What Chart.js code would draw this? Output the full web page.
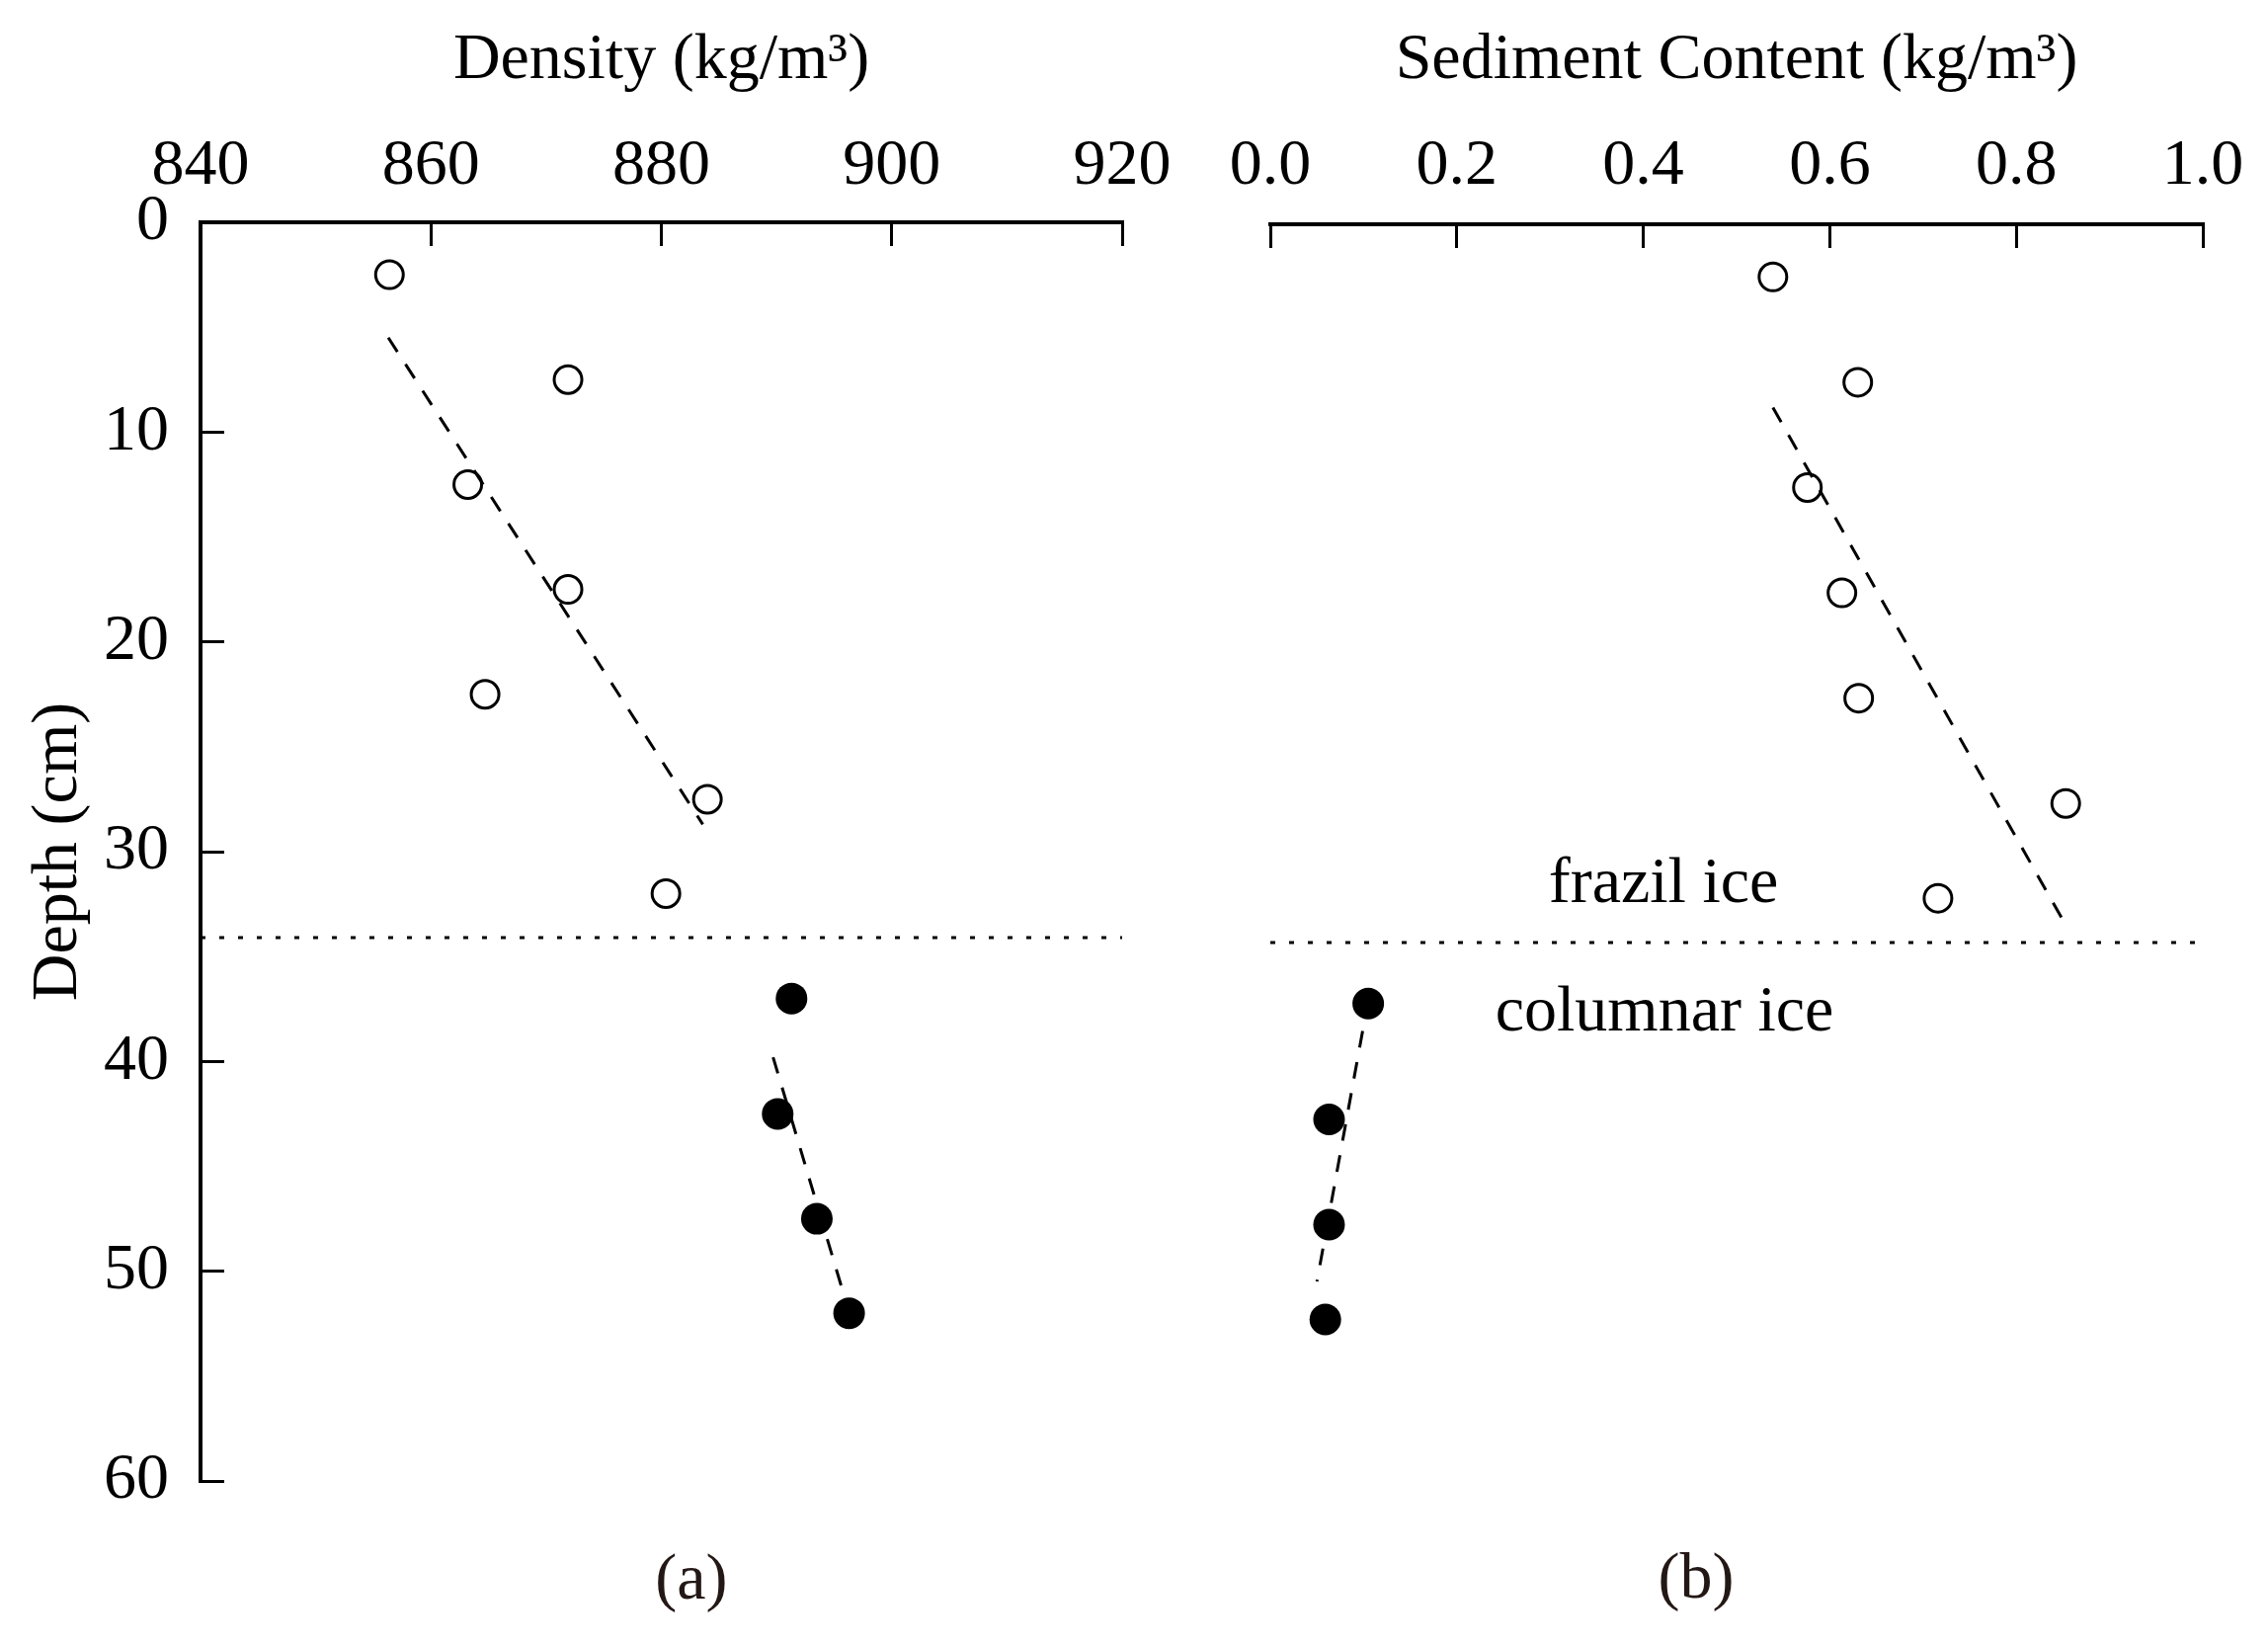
<!DOCTYPE html>
<html>
<head>
<meta charset="utf-8">
<script src="https://cdn.jsdelivr.net/npm/chart.js@4.4.1/dist/chart.umd.min.js"></script>
<style>
  html, body { margin: 0; padding: 0; background: #ffffff; }
  body { width: 2296px; height: 1667px; position: relative; overflow: hidden; }
  canvas { position: absolute; top: 0; }
  #cA { left: 0px; }
  #cB { left: 1215px; }
</style>
</head>
<body>
<canvas id="cA" width="1215" height="1667"></canvas>
<canvas id="cB" width="1081" height="1667"></canvas>
<script>
// ---------- data ----------
const depthFrazil   = [2.5, 7.5, 12.5, 17.5, 22.5, 27.5, 32.0];
const densityFrazil = [856.4, 871.9, 863.2, 871.9, 864.7, 884.0, 880.4];
const depthColumnar   = [37.0, 42.5, 47.5, 52.0];
const densityColumnar = [891.3, 890.1, 893.5, 896.3];

const sedimentFrazil   = [0.539, 0.630, 0.576, 0.613, 0.631, 0.853, 0.716];
const sedimentColumnar = [0.105, 0.063, 0.063, 0.059];

// dashed trend lines (end points as read)
const densityTrendFrazil   = { x: [856.3, 883.6], y: [5.5, 28.7] };
const densityTrendColumnar = { x: [889.7, 896.05], y: [39.8, 51.5] };
const sedimentTrendFrazil   = { x: [0.539, 0.852], y: [8.7, 33.2] };
const sedimentTrendColumnar = { x: [0.099, 0.050], y: [38.3, 50.2] };

const boundaryDepth = 34.1;

const densityTicks  = ['840', '860', '880', '900', '920'];
const sedimentTicks = ['0.0', '0.2', '0.4', '0.6', '0.8', '1.0'];
const depthTicks    = ['0', '10', '20', '30', '40', '50', '60'];

const labelsA = [{ text: '(a)', x: 882.6, y: 65.6, color: '#231815' }];
const labelsB = [
  { text: '(b)', x: 0.4566, y: 65.2, color: '#231815' },
  { text: 'frazil ice', x: 0.4216, y: 32.2, color: '#000000' },
  { text: 'columnar ice', x: 0.4227, y: 38.3, color: '#000000' }
];

// ---------- helpers ----------
const FONT = 'Liberation Serif';
Chart.defaults.font.family = FONT;
Chart.defaults.color = '#000000';

function pts(xs, ys) { return xs.map((v, i) => ({ x: v, y: ys[i] })); }

const textPlugin = {
  id: 'panelText',
  afterDraw(chart, args, opts) {
    const ctx = chart.ctx;
    const sx = chart.scales.x, sy = chart.scales.y;
    ctx.save();
    ctx.font = '66px "' + FONT + '"';
    ctx.textAlign = 'center';
    ctx.textBaseline = 'alphabetic';
    (opts.items || []).forEach(it => {
      ctx.fillStyle = it.color;
      ctx.fillText(it.text, sx.getPixelForValue(it.x), sy.getPixelForValue(it.y));
    });
    ctx.restore();
  }
};

function makeDatasets(xFr, xCol, trFr, trCol, xMin, xMax) {
  return [
    { label: 'trendF', data: pts(trFr.x, trFr.y), showLine: true, pointRadius: 0,
      borderColor: '#000', borderWidth: 3, borderDash: [17, 15], fill: false, order: 1 },
    { label: 'trendC', data: pts(trCol.x, trCol.y), showLine: true, pointRadius: 0,
      borderColor: '#000', borderWidth: 3, borderDash: [17, 15], fill: false, order: 1 },
    { label: 'boundary', data: pts([xMin, xMax], [boundaryDepth, boundaryDepth]), showLine: true,
      pointRadius: 0, borderColor: '#000', borderWidth: 3, borderDash: [5, 14], fill: false, order: 1 },
    { label: 'frazil', data: pts(xFr, depthFrazil), pointStyle: 'circle', pointRadius: 14,
      pointBorderWidth: 3, pointBorderColor: '#000', pointBackgroundColor: 'rgba(0,0,0,0)', showLine: false, order: 0 },
    { label: 'columnar', data: pts(xCol, depthColumnar), pointStyle: 'circle', pointRadius: 16,
      pointBorderWidth: 0, pointBackgroundColor: '#000', pointBorderColor: '#000', showLine: false, order: 0 }
  ];
}

function noOverflow(s) { s.paddingLeft = 0; s.paddingRight = 0; s.paddingTop = 0; s.paddingBottom = 0; }

function xAxis(min, max, step, ticksArr, title, h) {
  return {
    type: 'linear', position: 'top', min: min, max: max,
    afterFit: s => { s.height = h; noOverflow(s); },
    ticks: {
      stepSize: step, color: '#000', padding: 41 + (h - 225),
      font: { size: 66, family: FONT },
      callback: (v) => { const i = Math.round((v - min) / step); return ticksArr[i]; }
    },
    grid: { drawOnChartArea: false, drawTicks: true, tickLength: -24, tickWidth: 3, tickColor: '#000' },
    border: { display: true, width: 4, color: '#000' },
    title: { display: true, text: title, color: '#000', font: { size: 66, family: FONT }, padding: { top: 22, bottom: 0 } }
  };
}

const commonOpts = {
  responsive: false, animation: false, devicePixelRatio: 1,
  plugins: { legend: { display: false }, tooltip: { enabled: false } }
};

// ---------- left panel ----------
new Chart(document.getElementById('cA'), {
  type: 'scatter',
  data: { datasets: makeDatasets(densityFrazil, densityColumnar, densityTrendFrazil, densityTrendColumnar, 840, 920) },
  options: Object.assign({}, commonOpts, {
    layout: { padding: { left: 0, top: 0, right: 79, bottom: 168 } },
    plugins: Object.assign({}, commonOpts.plugins, { panelText: { items: labelsA } }),
    scales: {
      x: xAxis(840, 920, 20, densityTicks, 'Density (kg/m³)', 225),
      y: {
        type: 'linear', position: 'left', reverse: true, min: 0, max: 60,
        afterFit: s => { s.width = 203; noOverflow(s); },
        ticks: {
          stepSize: 10, color: '#000', padding: 56,
          font: { size: 66, family: FONT },
          callback: (v) => depthTicks[Math.round(v / 10)]
        },
        grid: { drawOnChartArea: false, drawTicks: true, tickLength: -24, tickWidth: 3, tickColor: '#000' },
        border: { display: true, width: 4, color: '#000' },
        title: { display: true, text: 'Depth (cm)', color: '#000', font: { size: 66, family: FONT }, padding: { top: 20, bottom: 0 } }
      }
    }
  }),
  plugins: [textPlugin]
});

// ---------- right panel ----------
new Chart(document.getElementById('cB'), {
  type: 'scatter',
  data: { datasets: makeDatasets(sedimentFrazil, sedimentColumnar, sedimentTrendFrazil, sedimentTrendColumnar, 0, 1.0) },
  options: Object.assign({}, commonOpts, {
    layout: { padding: { left: 71, top: 0, right: 66, bottom: 161 } },
    plugins: Object.assign({}, commonOpts.plugins, { panelText: { items: labelsB } }),
    scales: {
      x: xAxis(0, 1.0, 0.2, sedimentTicks, 'Sediment Content (kg/m³)', 227),
      y: { type: 'linear', display: false, reverse: true, min: 0, max: 60 }
    }
  }),
  plugins: [textPlugin]
});
</script>
</body>
</html>
